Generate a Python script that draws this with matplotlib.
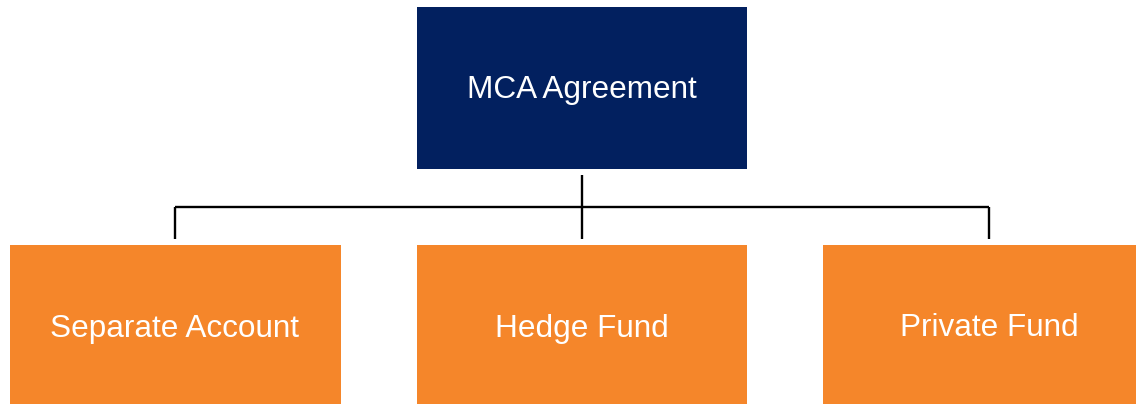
import matplotlib.pyplot as plt
from matplotlib.patches import Rectangle

# node labels
root_label = 'MCA Agreement'
child_labels = ['Separate Account', 'Hedge Fund', 'Private Fund']

# colours
root_color = '#02205F'
child_color = '#F5862A'

# layout (pixel space, y going down)
W, H = 1136, 404
root_box = (417, 7, 330, 162)          # x, y, w, h
child_boxes = [(10, 245, 331, 159), (417, 245, 330, 159), (823, 245, 313, 159)]
bus_y = 207

plt.rcParams['font.family'] = ['Liberation Sans', 'DejaVu Sans']

fig = plt.figure(figsize=(W / 100, H / 100), dpi=100)
ax = fig.add_axes([0, 0, 1, 1])
ax.set_xlim(0, W)
ax.set_ylim(H, 0)
ax.axis('off')

# root box
x, y, w, h = root_box
ax.add_patch(Rectangle((x, y), w, h, facecolor=root_color, edgecolor='none'))
ax.text(x + w / 2, y + h / 2 + 2, root_label, color='white', fontsize=22.7,
        ha='center', va='center')
root_cx = x + w / 2

# connector lines
lw = 1.7
ax.plot([root_cx, root_cx], [175, 239], color='black', lw=lw, solid_capstyle='butt')
ax.plot([175, 989], [bus_y, bus_y], color='black', lw=lw, solid_capstyle='butt')
for cx in [175, 989]:
    ax.plot([cx, cx], [bus_y, 239], color='black', lw=lw, solid_capstyle='butt')

# child boxes
for (x, y, w, h), label, cx in zip(child_boxes, child_labels, [175, 582, 989]):
    ax.add_patch(Rectangle((x, y), w, h, facecolor=child_color, edgecolor='none'))
    ax.text(cx, y + h / 2 + 4, label, color='white', fontsize=22.7,
            ha='center', va='center')

fig.savefig('out.png', dpi=100)
